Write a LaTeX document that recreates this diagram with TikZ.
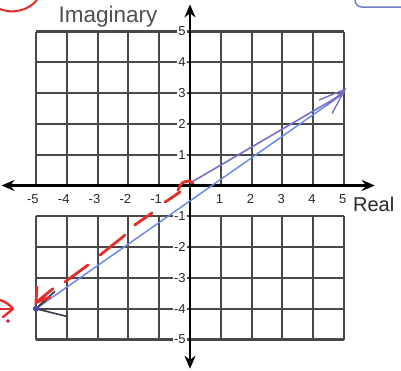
\documentclass[tikz,border=0pt]{standalone}
\usepackage{fontspec}
\setmainfont{Liberation Sans}
\usetikzlibrary{arrows.meta}
\definecolor{gridc}{RGB}{72,72,72}
\definecolor{lblc}{RGB}{40,40,40}
\definecolor{imagc}{RGB}{80,80,80}
\definecolor{bluel}{RGB}{105,140,230}
\definecolor{purpl}{RGB}{120,112,200}
\definecolor{redl}{RGB}{228,45,40}
\definecolor{darkarr}{RGB}{55,55,75}
\definecolor{boxblue}{RGB}{110,125,200}
\begin{document}
\begin{tikzpicture}[x=1pt,y=-1pt,
  gridl/.style={gridc, line width=2.1pt},
  axisl/.style={black, line width=2.8pt, {Stealth[length=13pt,width=11pt]}-{Stealth[length=13pt,width=11pt]}},
  ylab/.style={anchor=east, fill=white, inner sep=1pt, text=lblc, font=\fontsize{13}{13}\selectfont},
  xlab/.style={anchor=center, inner sep=1pt, text=lblc, font=\fontsize{13}{13}\selectfont},
  bluev/.style={bluel, line width=1.5pt},
  purpv/.style={purpl, line width=1.6pt},
  redv/.style={redl, line width=2.8pt, line cap=round},
  darkv/.style={darkarr, line width=1.6pt, line cap=round}]
\useasboundingbox (0,0) rectangle (401,370);
\clip (0,0) rectangle (401,370);
\fill[white] (0,0) rectangle (401,370);
% cropped remnants at the top edge
\draw[redl, line width=2pt] (0,9) .. controls (12,14) and (28,11) .. (37,0);
\draw[boxblue, line width=1.5pt, rounded corners=7pt] (355,-20) rectangle (430,7);
% red mark at the left
\draw[redv, line width=2.4pt] (0,300) .. controls (6,302) and (10,305) .. (13,309);
\draw[redv, line width=2.4pt] (13,309) -- (3,317);
\draw[redv, line width=2.4pt] (0,309) -- (12,309);
\fill[purple!70!red] (8,321) circle (1.8);
\begin{scope}[shift={(190,185.5)}, x=30.8pt, y=30.8pt]
  % grid
  \foreach \i in {-5,-4,-3,-2,-1,1,2,3,4,5} {
    \draw[gridl] (\i,-5) -- (\i,-1);
    \draw[gridl] (\i,0) -- (\i,5);
    \draw[gridl] (-5,\i) -- (5,\i);
  }
  % tick labels
  \foreach \i in {1,...,5} {
    \node[ylab] (yl\i) at (-0.1,\i) {\i};
    \node[ylab] (ylm\i) at (-0.1,-\i) {-\i};
    \node[xlab] (xl\i) at (\i-0.04,-0.43) {\i};
    \node[xlab] (xlm\i) at (-\i-0.1,-0.43) {-\i};
  }
  % axes
  \coordinate (xL) at (-6.12,0);
  \coordinate (xR) at (6.0,0);
  \coordinate (yB) at (0,-5.95);
  \coordinate (yT) at (0,5.88);
  \draw[axisl] (xL) -- (xR);
  \draw[axisl] (yB) -- (yT);
  % axis names
  \node[anchor=base west, inner sep=0pt, text=imagc, font=\fontsize{22.5}{22.5}\selectfont] (imag) at (-4.27,5.29) {Imaginary};
  \node[anchor=base west, inner sep=0pt, text=lblc, font=\fontsize{20}{20}\selectfont] (real) at (5.29,-0.86) {Real};
  % points
  \coordinate (O) at (0,0);
  \coordinate (O2) at (0,0.08);
  \coordinate (P) at (5,3);
  \coordinate (Q) at (-5,-4);
  % blue and purple vectors
  \draw[bluev] (Q) -- (P);
  \draw[purpv] (O2) -- (P);
  \draw[purpv, line width=1.4pt, line cap=round] (4.2,2.78) -- (5.03,3.12) -- (4.62,2.35);
  \draw[purpv, line width=1.2pt, line cap=round] (4.45,2.6) -- (5.03,3.12);
  \draw[darkv] (-4.4,-3.45) -- (Q) -- (-4.0,-4.25);
  \draw[darkv] (-4.6,-3.65) -- (Q);
  \fill[blue!45!gray] (Q) circle (0.1);
  % red dashed vector
  \draw[redv] (-0.39,-0.15) .. controls (-0.3,0.12) and (-0.1,0.22) .. (0.1,0.08);
  \draw[redv] (-0.81,-0.54) -- (-0.32,-0.21);
  \draw[redv] (-1.23,-0.89) -- (-1.79,-1.28);
  \draw[redv] (-2.11,-1.61) -- (-2.92,-2.26);
  \draw[redv] (-3.31,-2.58) -- (-4.06,-3.13);
  \draw[redv] (-4.45,-3.35) -- (-5.0,-3.8);
  \draw[redv] (-4.97,-3.3) -- (-5.0,-3.8) -- (-4.55,-3.62);
\end{scope}
\end{tikzpicture}
\end{document}
